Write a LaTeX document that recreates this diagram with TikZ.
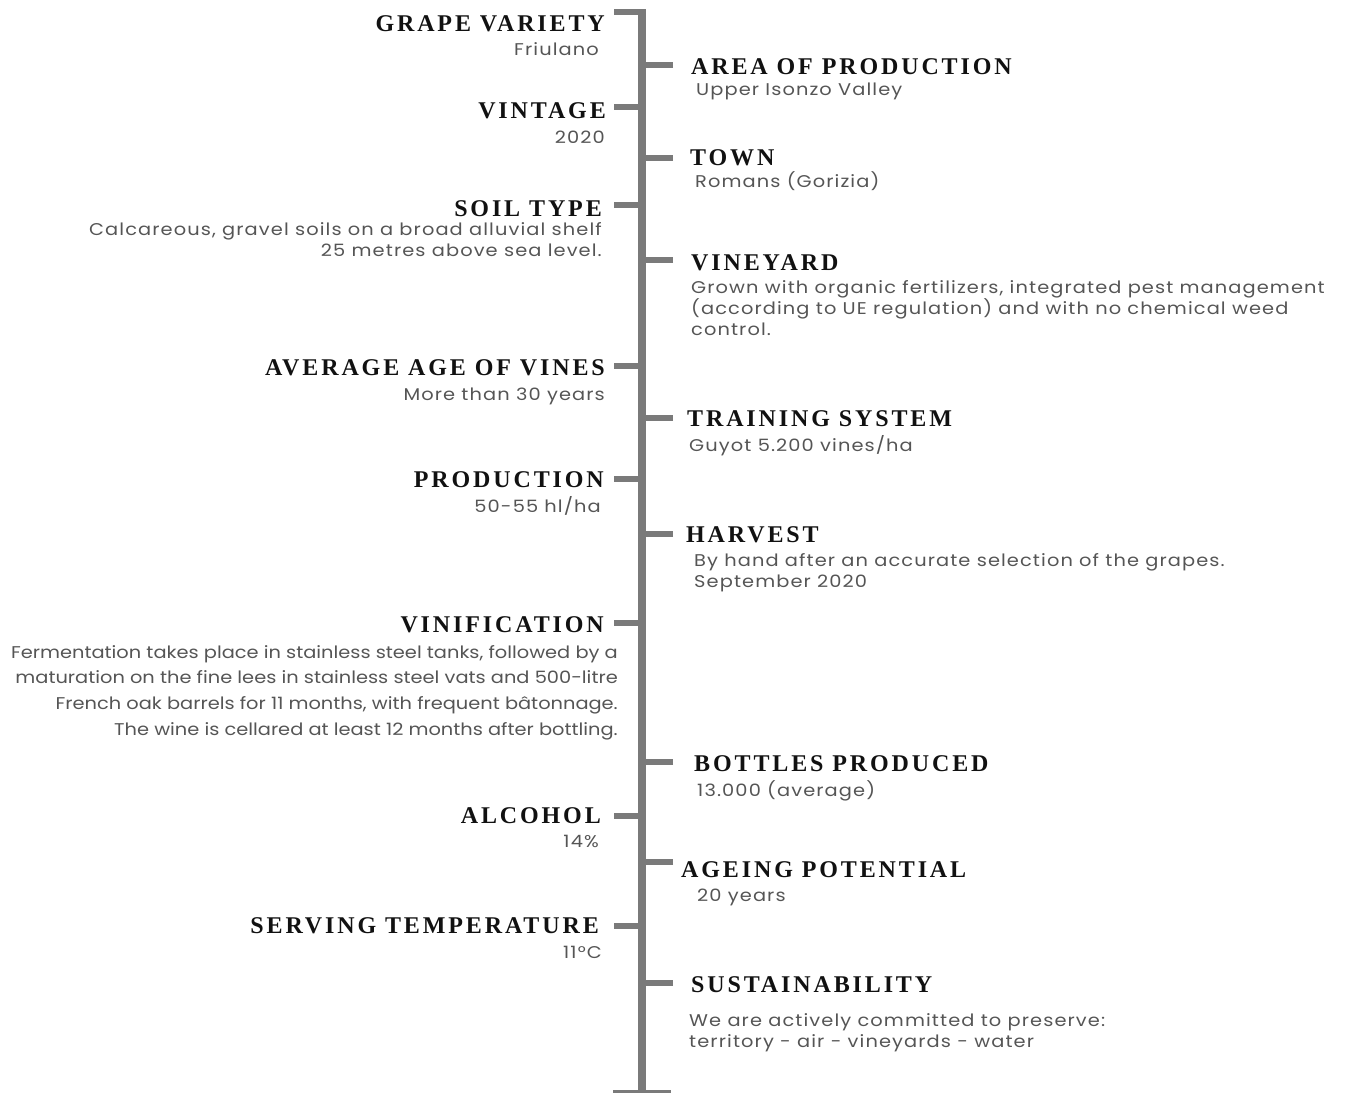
\documentclass[tikz,border=0pt]{standalone}
\usepackage{fontspec}
\newfontfamily\headfont[LetterSpace=12]{Liberation Serif}
\newfontfamily\notefont[LetterSpace=6.5,FakeStretch=1.14]{Poppins}
\newfontfamily\plainfont[FakeStretch=1.14]{Poppins}
\definecolor{barcol}{HTML}{7A7A7A}
\definecolor{headcol}{HTML}{111111}
\definecolor{notecol}{HTML}{555555}

\tikzset{
  headtext/.style = {inner sep=0pt, text=headcol, font=\headfont\bfseries\fontsize{24}{28}\selectfont},
  notetext/.style = {inner sep=0pt, text=notecol, font=\notefont\fontsize{17}{21}\selectfont},
  lefthead/.style = {headtext, anchor=base east},
  righthead/.style = {headtext, anchor=base west},
  leftnote/.style = {notetext, anchor=base east, align=right},
  rightnote/.style = {notetext, anchor=base west, align=left},
  tick/.style = {draw=barcol, line width=6pt},
}

\begin{document}
\begin{tikzpicture}[x=1pt, y=-1pt]
    \useasboundingbox (0,0) rectangle (1353,1093);

    % the spine
    \coordinate (top) at (642,9);
    \coordinate (bottom) at (642,1093);
    \draw [draw=barcol, line width=8pt] (top) -- (bottom);
    \coordinate (footl) at (613,1093);
    \coordinate (footr) at (671,1093);
    \draw [tick] (footl) -- (footr);

    \foreach \n/\y in {grape/12, vintage/107, soil/205, age/366, production/479, vinification/623, alcohol/816, serving/926}
      \draw [tick] (614,\y) coordinate (t\n) -- (t\n -| top);
    \foreach \n/\y in {area/65, town/158, vineyard/260, training/418, harvest/534, bottles/762, ageing/862, sustain/983}
      \draw [tick] (673,\y) coordinate (t\n) -- (t\n -| top);

    % left column (multi-line notes sit on their last line)
    \node [lefthead] (grape) at (605,31) {GRAPE VARIETY};
    \node [leftnote] (grapenote) at (599,55) {Friulano};
    \node [lefthead] (vintage) at (606,118) {VINTAGE};
    \node [leftnote] (vintagenote) at (605,143) {2020};
    \node [lefthead] (soil) at (602,216) {SOIL TYPE};
    \node [leftnote] (soilnote) at (602,256) {Calcareous, gravel soils on a broad alluvial shelf\\25 metres above sea level.};
    \node [lefthead] (age) at (605,375) {AVERAGE AGE OF VINES};
    \node [leftnote] (agenote) at (605,400) {More than 30 years};
    \node [lefthead] (production) at (604,487) {PRODUCTION};
    \node [leftnote] (productionnote) at (601,512) {50-55 hl/ha};
    \node [lefthead] (vinification) at (604,632) {VINIFICATION};
    \node [leftnote, font=\plainfont\fontsize{17}{25.6}\selectfont] (vinificationnote) at (618,735)
      {Fermentation takes place in stainless steel tanks, followed by a\\maturation on the fine lees in stainless steel vats and 500-litre\\French oak barrels for 11 months, with frequent bâtonnage.\\The wine is cellared at least 12 months after bottling.};
    \node [lefthead] (alcohol) at (601,823) {ALCOHOL};
    \node [leftnote] (alcoholnote) at (599,847) {14\%};
    \node [lefthead] (serving) at (599,933) {SERVING TEMPERATURE};
    \node [leftnote] (servingnote) at (602,958) {11°C};

    % right column
    \node [righthead] (area) at (691,74) {AREA OF PRODUCTION};
    \node [rightnote] (areanote) at (696,95) {Upper Isonzo Valley};
    \node [righthead] (town) at (690,165) {TOWN};
    \node [rightnote] (townnote) at (695,187) {Romans (Gorizia)};
    \node [righthead] (vineyard) at (691,270) {VINEYARD};
    \node [rightnote] (vineyardnote) at (691,335) {Grown with organic fertilizers, integrated pest management\\(according to UE regulation) and with no chemical weed\\control.};
    \node [righthead] (training) at (687,426) {TRAINING SYSTEM};
    \node [rightnote] (trainingnote) at (689,451) {Guyot 5.200 vines/ha};
    \node [righthead] (harvest) at (686,542) {HARVEST};
    \node [rightnote] (harvestnote) at (694,587) {By hand after an accurate selection of the grapes.\\September 2020};
    \node [righthead] (bottles) at (694,771) {BOTTLES PRODUCED};
    \node [rightnote] (bottlesnote) at (697,796) {13.000 (average)};
    \node [righthead] (ageing) at (681,877) {AGEING POTENTIAL};
    \node [rightnote] (ageingnote) at (697,901) {20 years};
    \node [righthead] (sustain) at (691,992) {SUSTAINABILITY};
    \node [rightnote] (sustainnote) at (689,1047) {We are actively committed to preserve:\\territory - air - vineyards - water};
\end{tikzpicture}
\end{document}
